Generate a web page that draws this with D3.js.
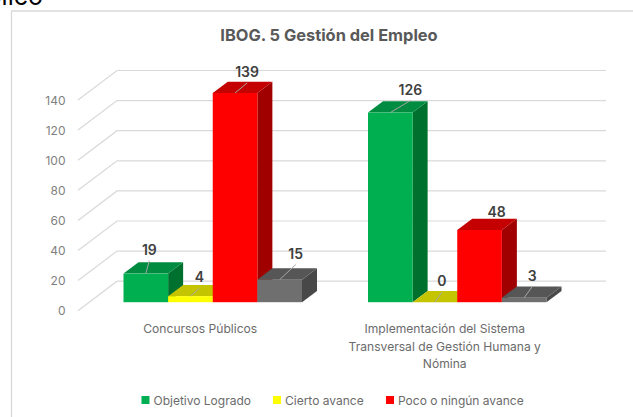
<!DOCTYPE html>
<html><head><meta charset="utf-8">
<style>html,body{margin:0;padding:0;background:#fff;overflow:hidden}svg{display:block}</style>
<script src="https://cdn.jsdelivr.net/npm/d3@7/dist/d3.min.js"></script>
</head><body><svg id="c" width="633" height="417"></svg>
<script>
const chartTitle = "IBOG. 5 Gestión del Empleo";
const categories = ["Concursos Públicos", "Implementación del Sistema Transversal de Gestión Humana y Nómina"];
const categoryLines = [["Concursos Públicos"], ["Implementación del Sistema", "Transversal de Gestión Humana y", "Nómina"]];
const seriesNames = ["Objetivo Logrado", "Cierto avance", "Poco o ningún avance", "Sin dato"];
const legendNames = ["Objetivo Logrado", "Cierto avance", "Poco o ningún avance"];
const objetivoLogrado = [19, 126];
const ciertoAvance = [4, 0];
const pocoAvance = [139, 48];
const sinDato = [15, 3];
const seriesValues = [objetivoLogrado, ciertoAvance, pocoAvance, sinDato];
const yTicks = [0, 20, 40, 60, 80, 100, 120, 140];
const frontColors = ["#00b050", "#ffff00", "#ff0000", "#6f6f6f"];
const topColors = ["#008c40", "#c4c400", "#c40000", "#565656"];
const sideColors = ["#00702f", "#a3a300", "#a00000", "#484848"];
const labelOffsets = [[[3.5, -24], [20, -23]], [[9, -19], [7, -21]], [[12, -21], [17, -18]], [[16, -26], [8, -22]]];

const FONT = "Inter, 'Open Sans', sans-serif";
const svg = d3.select("#c").style("font-family", FONT);
const y = d3.scaleLinear().domain([0, 140]).range([310.7, 100]);
const x0 = d3.scaleBand().domain(categories).range([78, 567]);
const x1 = d3.scaleBand().domain(seriesNames).range([0, 178.5]);
const wall = {dx: 39, dy: -29.5};
const bar = {dx: 12.5, dy: -8.5, ddx: 15, ddy: -11.3};
const grey = "#d9d9d9";

// clipped heading above the chart frame
svg.append("text").attr("x", 43).attr("y", 4.5).attr("text-anchor", "end")
  .attr("font-size", 25).attr("fill", "#000").text("blico");

// frame
svg.append("path").attr("d", "M633 11H11.5V417").attr("fill", "none").attr("stroke", "#d9d9d9").attr("stroke-width", 1.3);

svg.append("text").attr("x", 329).attr("y", 40.5).attr("text-anchor", "middle")
  .attr("font-size", 16.4).attr("font-weight", 700).attr("fill", "#595959").text(chartTitle);

// grid: lines on the side floor and back wall
yTicks.forEach(t => {
  const yy = y(t);
  svg.append("path").attr("d", `M78 ${yy}L${78 + wall.dx} ${yy + wall.dy}H606`)
    .attr("fill", "none").attr("stroke", grey).attr("stroke-width", 1.2);
  svg.append("text").attr("x", 65.5).attr("y", yy + 4.5).attr("text-anchor", "end")
    .attr("font-size", 12).attr("fill", "#7f7f7f").text(t);
});

// bars
const groupX = c => x0(c) + (x0.bandwidth() - x1.range()[1]) / 2 + bar.dx;
const h0 = y(0);
categories.forEach((c, ci) => {
  seriesNames.forEach((s, si) => {
    const v = seriesValues[si][ci];
    const L = groupX(c) + x1(s), R = L + x1.bandwidth();
    const b = h0 + bar.dy, t = y(v) + bar.dy;
    const {ddx: dx, ddy: dy} = bar;
    const g = svg.append("g");
    g.append("path").attr("d", `M${R} ${t}L${R + dx} ${t + dy}V${b + dy}L${R} ${b}Z`).attr("fill", sideColors[si]);
    g.append("path").attr("d", `M${L} ${t}L${L + dx} ${t + dy}H${R + dx}L${R} ${t}Z`).attr("fill", topColors[si]);
    g.append("rect").attr("x", L).attr("y", t).attr("width", R - L).attr("height", Math.max(b - t, 0)).attr("fill", frontColors[si]);
  });
});
// leader lines and data labels, drawn over all bars
categories.forEach((c, ci) => {
  seriesNames.forEach((s, si) => {
    const v = seriesValues[si][ci];
    const L = groupX(c) + x1(s);
    const px = L + x1.bandwidth() / 2, py = y(v) + bar.dy;
    const [ox, oy] = labelOffsets[si][ci];
    if (!(si === 2 && ci === 1)) {
      svg.append("line").attr("x1", px).attr("y1", py).attr("x2", px + ox).attr("y2", py + oy + 11)
        .attr("stroke", "#a6a6a6").attr("stroke-width", 1);
    }
    svg.append("text").attr("x", px + ox).attr("y", py + oy + 5).attr("text-anchor", "middle")
      .attr("font-size", 14).attr("font-weight", 600).attr("fill", "#404040").text(v);
  });
});

// category labels
categories.forEach((c, ci) => {
  const cx = x0(c) + x0.bandwidth() / 2;
  categoryLines[ci].forEach((ln, i) => {
    svg.append("text").attr("x", cx).attr("y", 333 + i * 17.7).attr("text-anchor", "middle")
      .attr("font-size", 12.1).attr("fill", "#6b6b6b").text(ln);
  });
});

// legend
const legendX = d3.scaleOrdinal().domain(legendNames).range([141.5, 273, 386]);
legendNames.forEach((n, i) => {
  const lx = legendX(n);
  svg.append("rect").attr("x", lx).attr("y", 396).attr("width", 8).attr("height", 8).attr("fill", frontColors[i]);
  svg.append("text").attr("x", lx + 12).attr("y", 404.5).attr("font-size", 12).attr("fill", "#6b6b6b").text(n);
});
</script></body></html>
